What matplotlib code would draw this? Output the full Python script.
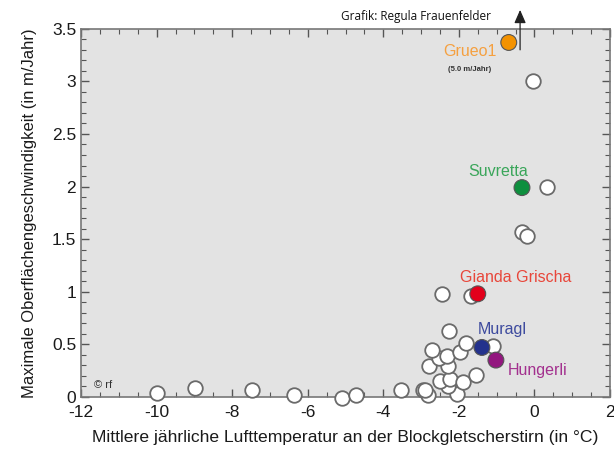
import numpy as np
import matplotlib.pyplot as plt
from matplotlib.ticker import MultipleLocator

plt.rcParams['axes.unicode_minus'] = False

# other rock glaciers (white circles)
other_temp = [-10.0, -8.98, -7.48, -6.36, -5.10, -4.71, -3.54, -2.95, -2.82, -2.90,
              -2.04, -2.29, -2.50, -2.23, -1.90, -1.55, -2.79, -2.29, -2.52, -2.31,
              -1.96, -2.72, -1.80, -1.09, -2.26, -2.45, -1.68, -0.33, -0.20, 0.33, -0.05]
other_vel = [0.04, 0.08, 0.07, 0.02, -0.01, 0.02, 0.07, 0.07, 0.02, 0.07,
             0.025, 0.10, 0.155, 0.17, 0.14, 0.21, 0.29, 0.29, 0.37, 0.39,
             0.43, 0.45, 0.51, 0.48, 0.63, 0.98, 0.96, 1.57, 1.53, 2.0, 3.0]

# named rock glaciers
names = ['Grueo1', 'Suvretta', 'Gianda Grischa', 'Muragl', 'Hungerli']
named_temp = [-0.68, -0.33, -1.50, -1.39, -1.02]
named_vel = [3.37, 1.99, 0.98, 0.47, 0.35]
dot_colors = ['#F39200', '#0E8F3E', '#E3001B', '#23318C', '#93177F']
label_colors = ['#F5A040', '#3AA65A', '#E8463A', '#3D4A9E', '#A3308E']
label_pos = [(-1.71, 3.28), (-0.97, 2.14), (-0.49, 1.14), (-0.84, 0.64), (0.09, 0.25)]

fig = plt.figure(figsize=(6.14, 4.5), dpi=100)
ax = fig.add_axes([0.132, 0.118, 0.8615, 0.818])
ax.set_facecolor('#E3E3E3')

ax.scatter(other_temp, other_vel, s=110, facecolor='white', edgecolor='#6a6a6a',
           linewidth=1.3, zorder=3, clip_on=False)
ax.scatter(named_temp, named_vel, s=130, c=dot_colors, edgecolor='#555555',
           linewidth=0.8, zorder=4, clip_on=False)

for name, (tx, ty), col in zip(names, label_pos, label_colors):
    ax.text(tx, ty, name, color=col, fontsize=11.5, ha='center', va='center',
            family='Liberation Sans')
ax.text(-1.71, 3.11, '(5.0 m/Jahr)', fontsize=5.5, ha='center', va='center',
        color='#333333', family='Liberation Sans', weight='bold')
ax.text(-11.42, 0.11, '© rf', fontsize=8, ha='center', va='center',
        color='#333333', family='Liberation Sans')

# arrow: Grueo1 is off scale
ax.annotate('', xy=(-0.38, 3.68), xytext=(-0.38, 3.30), xycoords='data',
            arrowprops=dict(arrowstyle='-|>,head_length=0.8,head_width=0.35',
                            color='#222222', lw=0.9, shrinkA=0, shrinkB=0),
            annotation_clip=False)

ax.set_xlim(-12, 2)
ax.set_ylim(0, 3.5)
ax.xaxis.set_major_locator(MultipleLocator(2))
ax.xaxis.set_minor_locator(MultipleLocator(0.5))
ax.yaxis.set_major_locator(MultipleLocator(0.5))
ax.yaxis.set_minor_locator(MultipleLocator(0.1))
ax.set_yticks([0, 0.5, 1, 1.5, 2, 2.5, 3, 3.5])
ax.set_yticklabels(['0', '0.5', '1', '1.5', '2', '2.5', '3', '3.5'])
ax.tick_params(which='both', direction='in', top=True, right=True,
               color='#555555', labelsize=12.5, labelcolor='#1a1a1a')
ax.tick_params(which='major', length=6, width=1)
ax.tick_params(which='minor', length=3.5, width=0.8)
ax.tick_params(axis='x', pad=6)
for s in ax.spines.values():
    s.set_color('#777777')
    s.set_linewidth(1.2)
for lab in ax.get_xticklabels() + ax.get_yticklabels():
    lab.set_family('Liberation Sans')

ax.set_xlabel('Mittlere jährliche Lufttemperatur an der Blockgletscherstirn (in °C)',
              fontsize=12.6, color='#1a1a1a', family='Liberation Sans', labelpad=7)
ax.set_ylabel('Maximale Oberflächengeschwindigkeit (in m/Jahr)',
              fontsize=12, color='#1a1a1a', family='Liberation Sans', labelpad=11)

fig.text(0.678, 0.964, 'Grafik: Regula Frauenfelder', fontsize=8.5, ha='center',
         va='center', family='Open Sans', color='#111111')

fig.savefig('out.png', dpi=100)
